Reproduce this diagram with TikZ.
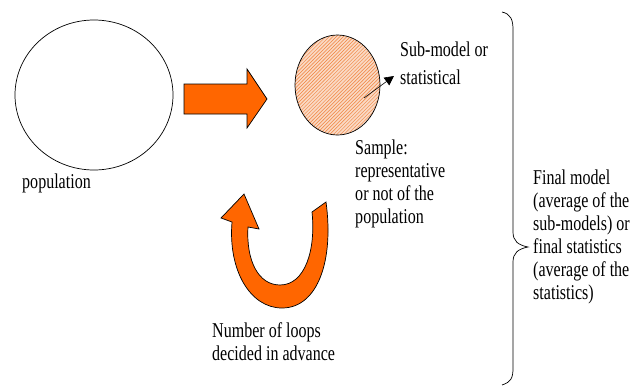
\documentclass[tikz,border=0pt]{standalone}
\usepackage{fontspec}
\newfontfamily\diafont[FakeStretch=0.76]{Liberation Serif}
\usetikzlibrary{arrows.meta,patterns}
\definecolor{arroworange}{RGB}{255,102,0}
\definecolor{hatchorange}{RGB}{240,130,60}

\begin{document}
\begin{tikzpicture}[x=0.03cm,y=-0.03cm,
  txt/.style={anchor=north west,align=left,inner sep=0pt,font=\diafont\fontsize{18}{19.6}\selectfont},
  bigarrow/.style={fill=arroworange,draw=black,line width=0.6pt,line join=miter}]
\useasboundingbox (0,0) rectangle (642,387);

%Define Coordinates
\coordinate (P) at (94,95);
\coordinate (S) at (337.5,85);
\coordinate (T) at (364,98);
\coordinate (L) at (394,76);

%Population and sample
\draw[line width=0.6pt] (P) ellipse [x radius=79,y radius=75];
\draw[line width=0.6pt,preaction={fill=hatchorange!30},pattern=north east lines,pattern color=hatchorange] (S) ellipse [x radius=42.5,y radius=50];
\draw[line width=0.5pt,-{Triangle[length=8pt,width=8pt]}] (T) -- (L);

%Arrows
\draw[bigarrow] (184,84) -- (247,84) -- (247,69) -- (267,99) -- (247,128) -- (247,114) -- (184,114) -- cycle;
\draw[bigarrow] (326,202) -- (312,212)
  .. controls (316,250) and (305,285) .. (280,285)
  .. controls (258,285) and (246,260) .. (248,227)
  -- (259,229) -- (244,194) -- (221,218) -- (232,222)
  .. controls (228,270) and (250,308) .. (282,308)
  .. controls (318,308) and (334,260) .. (326,202) -- cycle;

%Brace
\draw[line width=0.6pt] (502,12) .. controls (511,14) and (513,20) .. (513,30)
  -- (513,232) .. controls (513,241) and (518,245) .. (528,247)
  .. controls (518,249) and (513,253) .. (513,262)
  -- (513,368) .. controls (513,378) and (511,382) .. (502,385);

%Labels
\node[txt] (poplabel) at (22,174) {population};
\node[txt] (sublabel) at (400,42) {Sub-model or\\[4pt]statistical};
\node[txt] (samplabel) at (355,140) {Sample:\\representative\\or not of the\\population};
\node[txt] (finallabel) at (533,170) {Final model\\(average of the\\sub-models) or\\final statistics\\(average of the\\statistics)};
\node[txt] (looplabel) at (212,322) {Number of loops\\decided in advance};

\end{tikzpicture}
\end{document}
